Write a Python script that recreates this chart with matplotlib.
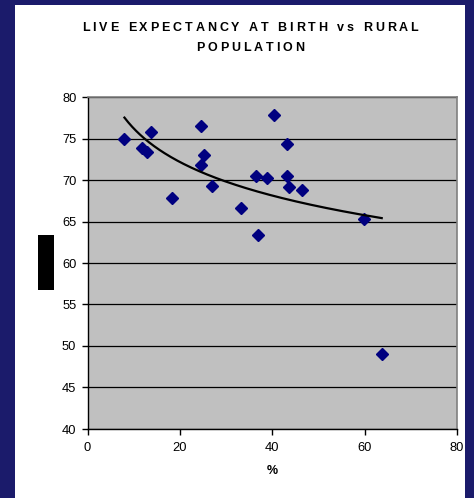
import numpy as np
import matplotlib
matplotlib.use("Agg")
import matplotlib.pyplot as plt
from matplotlib.patches import Rectangle
from matplotlib.font_manager import FontProperties

plt.rcParams['font.family'] = ['Liberation Sans', 'DejaVu Sans']

rural_pct = [8.0, 13.8, 11.7, 12.9, 18.4, 24.6, 25.2, 24.6, 27.0, 33.2,
             36.5, 38.9, 37.0, 40.4, 43.3, 43.3, 43.6, 46.4, 59.9, 63.7]
life_exp = [75.0, 75.8, 73.8, 73.4, 67.8, 76.5, 73.0, 71.8, 69.3, 66.6,
            70.5, 70.2, 63.4, 77.8, 74.3, 70.5, 69.1, 68.8, 65.3, 49.0]
x_ticks = [0, 20, 40, 60, 80]
y_ticks = [40, 45, 50, 55, 60, 65, 70, 75, 80]
title_lines = ["LIVE EXPECTANCY AT BIRTH vs RURAL", "POPULATION"]
x_label = "%"

W, H = 474, 498
fig = plt.figure(figsize=(W / 100, H / 100), dpi=100)
fig.patch.set_facecolor('#1b1b6b')
fig.patches.append(Rectangle((15 / W, 0), (465 - 15) / W, (493) / H,
                             transform=fig.transFigure, facecolor='white',
                             edgecolor='none', zorder=-10))
# black block on the left
fig.patches.append(Rectangle((38 / W, 1 - 290 / H), 16 / W, 55 / H,
                             transform=fig.transFigure, facecolor='black',
                             edgecolor='none', zorder=-5))

ax = fig.add_axes([87.5 / W, 1 - 429 / H, (457 - 87.5) / W, (429 - 97) / H])
ax.set_facecolor('#c0c0c0')

x = np.array(rural_pct)
y = np.array(life_exp)
ax.plot(x, y, linestyle='none', marker='D', markersize=6.2,
        color='#000080', zorder=3)

# logarithmic trendline
b, a = np.polyfit(np.log(x), y, 1)
xs = np.linspace(x.min(), x.max(), 200)
ax.plot(xs, a + b * np.log(xs), color='black', lw=1.6, zorder=4)

ax.set_xlim(0, 80)
ax.set_ylim(40, 80)
ax.set_xticks(x_ticks)
ax.set_yticks(y_ticks)
ax.yaxis.grid(True, color='black', lw=0.9)
ax.set_axisbelow(True)
for s in ['top', 'right']:
    ax.spines[s].set_color('#808080')
    ax.spines[s].set_linewidth(1.2)
for s in ['left', 'bottom']:
    ax.spines[s].set_color('black')
    ax.spines[s].set_linewidth(1.0)
ax.tick_params(direction='out', length=4, width=1, labelsize=9.3,
               colors='black', pad=4)
ax.tick_params(axis='x', pad=5)

ax.set_xlabel(x_label, fontsize=9, fontweight='bold', labelpad=8)

# letter-spaced title, drawn character by character
renderer = fig.canvas.get_renderer()
fp = FontProperties(family=['Liberation Sans', 'DejaVu Sans'], weight='bold', size=9)
tracking = 2.9
for line, ybase in zip(title_lines, [31, 51]):
    widths = [renderer.get_text_width_height_descent(c, fp, ismath=False)[0]
              for c in line]
    total = sum(widths) + tracking * (len(line) - 1)
    xpos = 250 - total / 2
    for c, w in zip(line, widths):
        if c != ' ':
            fig.text(xpos / W, 1 - ybase / H, c, fontproperties=fp,
                     ha='left', va='baseline')
        xpos += w + tracking

fig.savefig('out.png', dpi=100, facecolor=fig.get_facecolor())
